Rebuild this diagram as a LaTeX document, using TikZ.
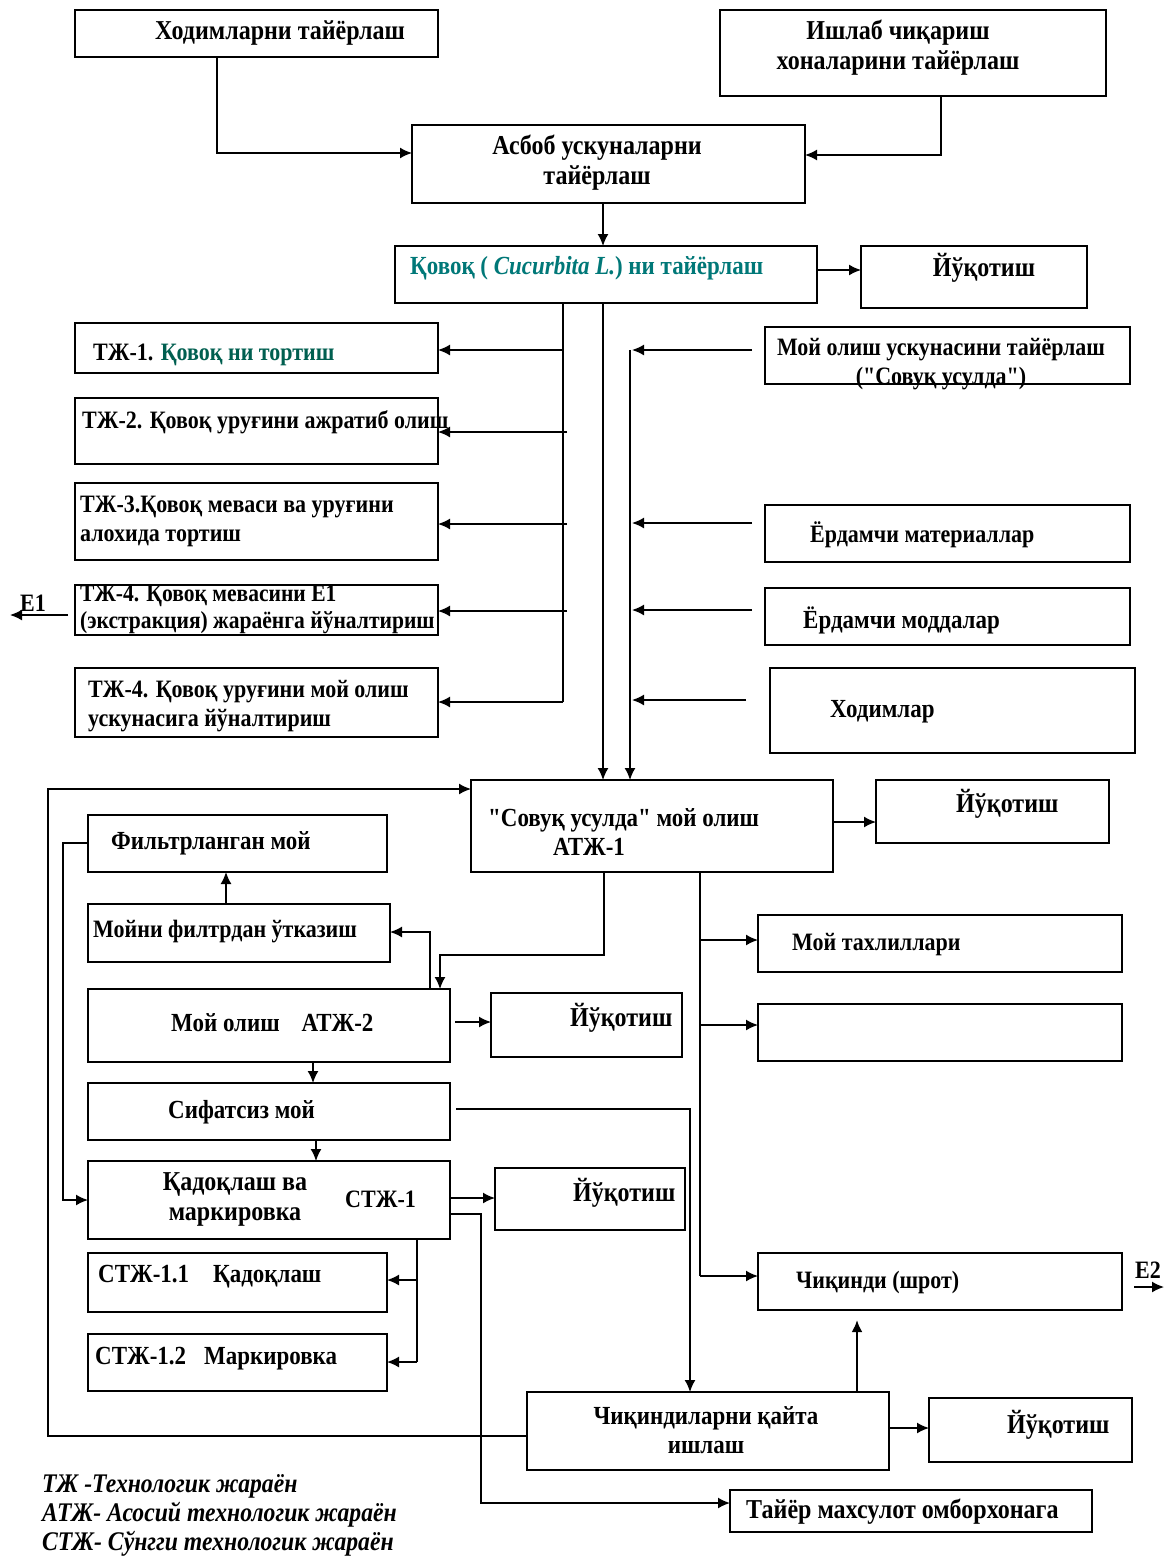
\documentclass[tikz,border=0pt]{standalone}
\usepackage{fontspec}
\setmainfont{Liberation Serif}[Ligatures=TeXOff,FakeStretch=0.88]
\usetikzlibrary{arrows.meta}
\definecolor{tealtxt}{RGB}{0,120,120}
\definecolor{tealdark}{RGB}{0,95,80}
\newcommand\mybox[5]{\node[bx,anchor=north west,minimum width={#4-#2},minimum height={#5-#3}] (#1) at (#2,#3) {};}
\tikzset{
  bx/.style={draw,line width=1.6pt,inner sep=0pt,outer sep=0pt},
  fa/.style={font=\fontsize{25}{29}\selectfont\bfseries},
  fb/.style={font=\fontsize{26.1}{29}\selectfont\bfseries},
  fc/.style={font=\fontsize{27.3}{30}\selectfont\bfseries},
  tx/.style={inner sep=0pt,fa,align=center},
  txl/.style={tx,align=left,anchor=west},
  ln/.style={line width=1.6pt},
  ar/.style={line width=1.6pt,-{Latex[length=12pt,width=11pt]}},
}
\begin{document}
\begin{tikzpicture}[x=1pt,y=-1pt]
\useasboundingbox[fill=white] (0,0) rectangle (1170,1557);
% boxes
\mybox{A}{75}{10}{438}{57}
\mybox{B}{720}{10}{1106}{96}
\mybox{C}{412}{125}{805}{203}
\mybox{D}{395}{246}{817}{303}
\mybox{E}{861}{246}{1087}{308}
\mybox{T1}{75}{323}{438}{373}
\mybox{T2}{75}{398}{438}{464}
\mybox{T3}{75}{483}{438}{560}
\mybox{T4}{75}{585}{438}{635}
\mybox{T5}{75}{668}{438}{737}
\mybox{R1}{765}{327}{1130}{384}
\mybox{R2}{765}{505}{1130}{562}
\mybox{R3}{765}{588}{1130}{645}
\mybox{R4}{770}{668}{1135}{753}
\mybox{M1}{471}{780}{833}{872}
\mybox{L1}{876}{780}{1109}{843}
\mybox{F1}{88}{815}{387}{872}
\mybox{F2}{88}{904}{390}{962}
\mybox{M2}{88}{989}{450}{1062}
\mybox{L2}{491}{993}{682}{1057}
\mybox{S}{88}{1083}{450}{1140}
\mybox{P}{88}{1161}{450}{1239}
\mybox{L3}{495}{1168}{685}{1230}
\mybox{P1}{88}{1253}{387}{1312}
\mybox{P2}{88}{1334}{387}{1391}
\mybox{MT}{758}{915}{1122}{972}
\mybox{Em}{758}{1004}{1122}{1061}
\mybox{Sh}{758}{1253}{1122}{1310}
\mybox{W}{527}{1392}{889}{1470}
\mybox{L4}{929}{1398}{1132}{1462}
\mybox{TM}{730}{1490}{1092}{1532}
% texts
\node[tx,fc] (tA) at (280,33) {Ходимларни тайёрлаш};
\node[tx,fc] (tB) at (898,48) {Ишлаб чиқариш\\хоналарини тайёрлаш};
\node[tx,fc] (tC) at (597,163) {Асбоб ускуналарни\\тайёрлаш};
\node[txl,fb,text=tealtxt] (tD) at (410,268) {Қовоқ ( \textit{Cucurbita L.}) ни тайёрлаш};
\node[tx,fc] (tE) at (984,268) {Йўқотиш};
\node[txl] (tT1) at (93,355) {ТЖ-1. \textcolor{tealdark}{Қовоқ ни тортиш}};
\node[txl] (tT2) at (82,422) {ТЖ-2. Қовоқ уруғини ажратиб олиш};
\node[txl] (tT3) at (80,521) {ТЖ-3.Қовоқ меваси ва уруғини\\алохида тортиш};
\node[txl,font=\fontsize{24.5}{27}\selectfont\bfseries] (tT4) at (80,610) {ТЖ-4. Қовоқ мевасини Е1\\(экстракция) жараёнга йўналтириш};
\node[txl] (tT5) at (88,706) {ТЖ-4. Қовоқ уруғини мой олиш\\ускунасига йўналтириш};
\node[tx] (tR1) at (941,364) {Мой олиш ускунасини тайёрлаш\\("Совуқ усулда")};
\node[txl] (tR2) at (810,535) {Ёрдамчи материаллар};
\node[txl,fb] (tR3) at (803,620) {Ёрдамчи моддалар};
\node[txl,fb] (tR4) at (830,712) {Ходимлар};
\node[txl,fb] (tM1) at (488,832) {"Совуқ усулда" мой олиш\\\hspace*{65pt}АТЖ-1};
\node[txl,fc] (tL1) at (956,804) {Йўқотиш};
\node[txl,fb] (tF1) at (111,843) {Фильтрланган мой};
\node[txl] (tF2) at (93,932) {Мойни филтрдан ўтказиш};
\node[txl,fb] (tM2) at (171,1023) {Мой олиш\hspace{22pt}АТЖ-2};
\node[txl,fc] (tL2) at (570,1018) {Йўқотиш};
\node[txl,fb] (tS) at (168,1112) {Сифатсиз мой};
\node[tx,fc] (tP) at (235,1199) {Қадоқлаш ва\\маркировка};
\node[txl] (tP0) at (345,1199) {СТЖ-1};
\node[txl,fc] (tL3) at (573,1193) {Йўқотиш};
\node[txl,fb] (tP1) at (98,1277) {СТЖ-1.1\hspace{24pt}Қадоқлаш};
\node[txl,fb] (tP2) at (95,1359) {СТЖ-1.2\hspace{18pt}Маркировка};
\node[txl] (tMT) at (792,945) {Мой тахлиллари};
\node[txl] (tSh) at (796,1282) {Чиқинди (шрот)};
\node[tx,fb] (tW) at (706,1430) {Чиқиндиларни қайта\\ишлаш};
\node[txl,fc] (tL4) at (1007,1425) {Йўқотиш};
\node[txl,fc] (tTM) at (746,1512) {Тайёр махсулот омборхонага};
\node[tx] (tE1) at (33,603) {Е1};
\node[tx] (tE2) at (1148,1270) {Е2};
\node[txl,font=\fontsize{26.9}{29}\selectfont\bfseries\itshape] (leg) at (42,1515) {ТЖ -Технологик жараён\\АТЖ- Асосий технологик жараён\\СТЖ- Сўнгги технологик жараён};
% connectors
\draw[ar] (217,0 |- A.south) |- (C.west |- 0,153);
\draw[ar] (941,0 |- B.south) |- (C.east |- 0,155);
\draw[ar] (603,0 |- C.south) -- (603,0 |- D.north);
\draw[ar] (D.east |- 0,270) -- (E.west |- 0,270);
% TJ bus
\draw[ln] (563,0 |- D.south) -- (563,702);
\draw[ar] (563,350) -- (T1.east |- 0,350);
\draw[ar] (567,432) -- (T2.east |- 0,432);
\draw[ar] (567,524) -- (T3.east |- 0,524);
\draw[ar] (567,611) -- (T4.east |- 0,611);
\draw[ar] (563,702) -- (T5.east |- 0,702);
\draw[ar] ([xshift=-7pt]T4.west |- 0,615) -- (10,615);
% main lines to ATJ-1
\draw[ar] (603,0 |- D.south) -- (603,0 |- M1.north);
\draw[ar] (630,350) -- (630,0 |- M1.north);
\draw[ar] ([xshift=-13pt]R1.west |- 0,350) -- (632,350);
\draw[ar] ([xshift=-13pt]R2.west |- 0,523) -- (632,523);
\draw[ar] ([xshift=-13pt]R3.west |- 0,610) -- (632,610);
\draw[ar] ([xshift=-24pt]R4.west |- 0,700) -- (632,700);
% ATJ-1 outputs
\draw[ar] (M1.east |- 0,822) -- (L1.west |- 0,822);
\draw[ar] (604,0 |- M1.south) |- (440,955) -- (440,0 |- M2.north);
\draw[ln] (700,0 |- M1.south) -- (700,1276);
\draw[ar] (700,940) -- (MT.west |- 0,940);
\draw[ar] (700,1025) -- (Em.west |- 0,1025);
\draw[ar] (700,1276) -- (Sh.west |- 0,1276);
\draw[ar] ([xshift=12pt]Sh.east |- 0,1287) -- ([xshift=42pt]Sh.east |- 0,1287);
% left part
\draw[ar] (430,0 |- M2.north) |- (F2.east |- 0,932);
\draw[ar] (226,0 |- F2.north) -- (226,0 |- F1.south);
\draw[ar] ([xshift=5pt]M2.east |- 0,1022) -- (L2.west |- 0,1022);
\draw[ar] (313,0 |- M2.south) -- (313,0 |- S.north);
\draw[ar] ([xshift=6pt]S.east |- 0,1109) -| (690,0 |- W.north);
\draw[ar] (316,0 |- S.south) -- (316,0 |- P.north);
\draw[ar] (F1.west |- 0,843) -| (63,1200) -- (P.west |- 0,1200);
\draw[ar] (P.east |- 0,1198) -- (L3.west |- 0,1198);
\draw[ln] (417,0 |- P.south) -- (417,1362);
\draw[ar] (417,1280) -- (P1.east |- 0,1280);
\draw[ar] (417,1362) -- (P2.east |- 0,1362);
\draw[ar] (P.east |- 0,1214) -| (481,1503) -- (TM.west |- 0,1503);
\draw[ar] (W.west |- 0,1436) -| (48,789) -- (M1.west |- 0,789);
\draw[ar] (W.east |- 0,1428) -- (L4.west |- 0,1428);
\draw[ar,line width=2.4pt] (857,0 |- W.north) -- ([yshift=-10pt]857,0 |- Sh.south);
\end{tikzpicture}
\end{document}
